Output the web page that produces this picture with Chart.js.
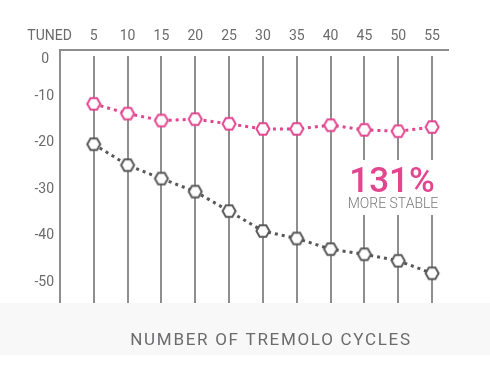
<!DOCTYPE html>
<html>
<head>
<meta charset="utf-8">
<script src="https://cdn.jsdelivr.net/npm/chart.js@4.4.1/dist/chart.umd.min.js"></script>
<style>
html, body { margin: 0; padding: 0; background: #fff; }
#wrap { width: 490px; height: 368px; }
</style>
</head>
<body>
<div id="wrap"><canvas id="chart" width="490" height="368"></canvas></div>
<script>
// cents of detuning after N tremolo cycles
const cycles = ['TUNED', '5', '10', '15', '20', '25', '30', '35', '40', '45', '50', '55'];
const stableDrift = [null, -11.6, -13.7, -15.2, -14.9, -15.9, -17.0, -17.0, -16.2, -17.2, -17.5, -16.6];
const standardDrift = [null, -20.3, -24.8, -27.7, -30.5, -34.7, -39.0, -40.6, -42.9, -44.0, -45.4, -48.1];
const yTicks = [0, -10, -20, -30, -40, -50];
const bottomTitle = 'NUMBER OF TREMOLO CYCLES';
const calloutValue = '131%';
const calloutText = 'MORE STABLE';

const PINK = '#e1468f';
const DARK = '#58585a';
const GRID = '#8e8e8e';
const LABEL = '#6b6b6d';
const FONT = 'Roboto, sans-serif';

function hexagon(color) {
    const c = document.createElement('canvas');
    c.width = 18;
    c.height = 18;
    const ctx = c.getContext('2d');
    ctx.beginPath();
    for (let i = 0; i < 6; i++) {
        const a = Math.PI / 3 * i;
        const px = 9 + 6.5 * Math.cos(a), py = 9 + 6.5 * Math.sin(a);
        if (i === 0) ctx.moveTo(px, py); else ctx.lineTo(px, py);
    }
    ctx.closePath();
    ctx.fillStyle = '#fff';
    ctx.fill();
    ctx.lineWidth = 2;
    ctx.strokeStyle = color;
    ctx.stroke();
    return c;
}

const decor = {
    id: 'decor',
    beforeDraw(chart) {
        const { ctx, chartArea } = chart;
        ctx.save();
        ctx.fillStyle = '#f8f8f8';
        ctx.fillRect(0, chartArea.bottom, chart.width, 52);
        ctx.fillStyle = LABEL;
        ctx.font = '17px ' + FONT;
        ctx.letterSpacing = '1.7px';
        ctx.textAlign = 'center';
        ctx.textBaseline = 'middle';
        ctx.fillText(bottomTitle, 271, chartArea.bottom + 38);
        ctx.restore();
    },
    beforeDatasetsDraw(chart) {
        const { ctx, chartArea, scales: { x, y } } = chart;
        ctx.save();
        ctx.strokeStyle = GRID;
        ctx.lineWidth = 2;
        cycles.forEach((c, i) => {
            const px = Math.round(x.getPixelForValue(i));
            ctx.beginPath();
            ctx.moveTo(px, i === 0 ? chartArea.top - 1 : chartArea.top + 6);
            ctx.lineTo(px, chartArea.bottom);
            ctx.stroke();
        });
        const x0 = Math.round(x.getPixelForValue(0));
        ctx.beginPath();
        ctx.moveTo(x0 - 1, chartArea.top);
        ctx.lineTo(chartArea.right, chartArea.top);
        ctx.stroke();

        // top category labels, TUNED sits left of its line
        ctx.fillStyle = LABEL;
        ctx.font = '14px ' + FONT;
        ctx.textBaseline = 'middle';
        cycles.forEach((c, i) => {
            const px = x.getPixelForValue(i);
            if (i === 0) {
                ctx.textAlign = 'right';
                ctx.fillText(c, px + 12, chartArea.top - 14);
            } else {
                ctx.textAlign = 'center';
                ctx.fillText(c, px, chartArea.top - 14);
            }
        });

        // y labels, the "0" sits a bit below the top line
        ctx.textAlign = 'right';
        yTicks.forEach(v => {
            if (v === 0) ctx.fillText('0', 49, y.getPixelForValue(v) + 9);
            else ctx.fillText(String(v), 54, y.getPixelForValue(v));
        });

        // callout
        ctx.fillStyle = '#fff';
        ctx.fillRect(343, 160, 98, 55);
        ctx.textAlign = 'center';
        ctx.textBaseline = 'alphabetic';
        ctx.fillStyle = PINK;
        ctx.font = '500 35px ' + FONT;
        ctx.fillText(calloutValue, 392, 192);
        ctx.fillStyle = '#7a7a7c';
        ctx.font = '300 14px ' + FONT;
        ctx.fillText(calloutText, 393, 208);
        ctx.restore();
    }
};

new Chart('chart', {
    type: 'line',
    data: {
        labels: cycles,
        datasets: [{
            label: 'Stabilized',
            data: stableDrift,
            borderColor: PINK,
            borderWidth: 3,
            borderDash: [3, 4],
            pointStyle: hexagon(PINK),
            fill: false
        }, {
            label: 'Standard',
            data: standardDrift,
            borderColor: DARK,
            borderWidth: 3,
            borderDash: [3, 4],
            pointStyle: hexagon(DARK),
            fill: false
        }]
    },
    options: {
        responsive: false,
        animation: false,
        layout: { padding: { left: 43, right: 41, top: 50, bottom: 65 } },
        plugins: {
            legend: { display: false },
            tooltip: { enabled: false }
        },
        scales: {
            x: {
                type: 'category',
                offset: true,
                display: false
            },
            y: {
                display: false,
                min: -54.5,
                max: 0
            }
        }
    },
    plugins: [decor]
});
</script>
</body>
</html>
